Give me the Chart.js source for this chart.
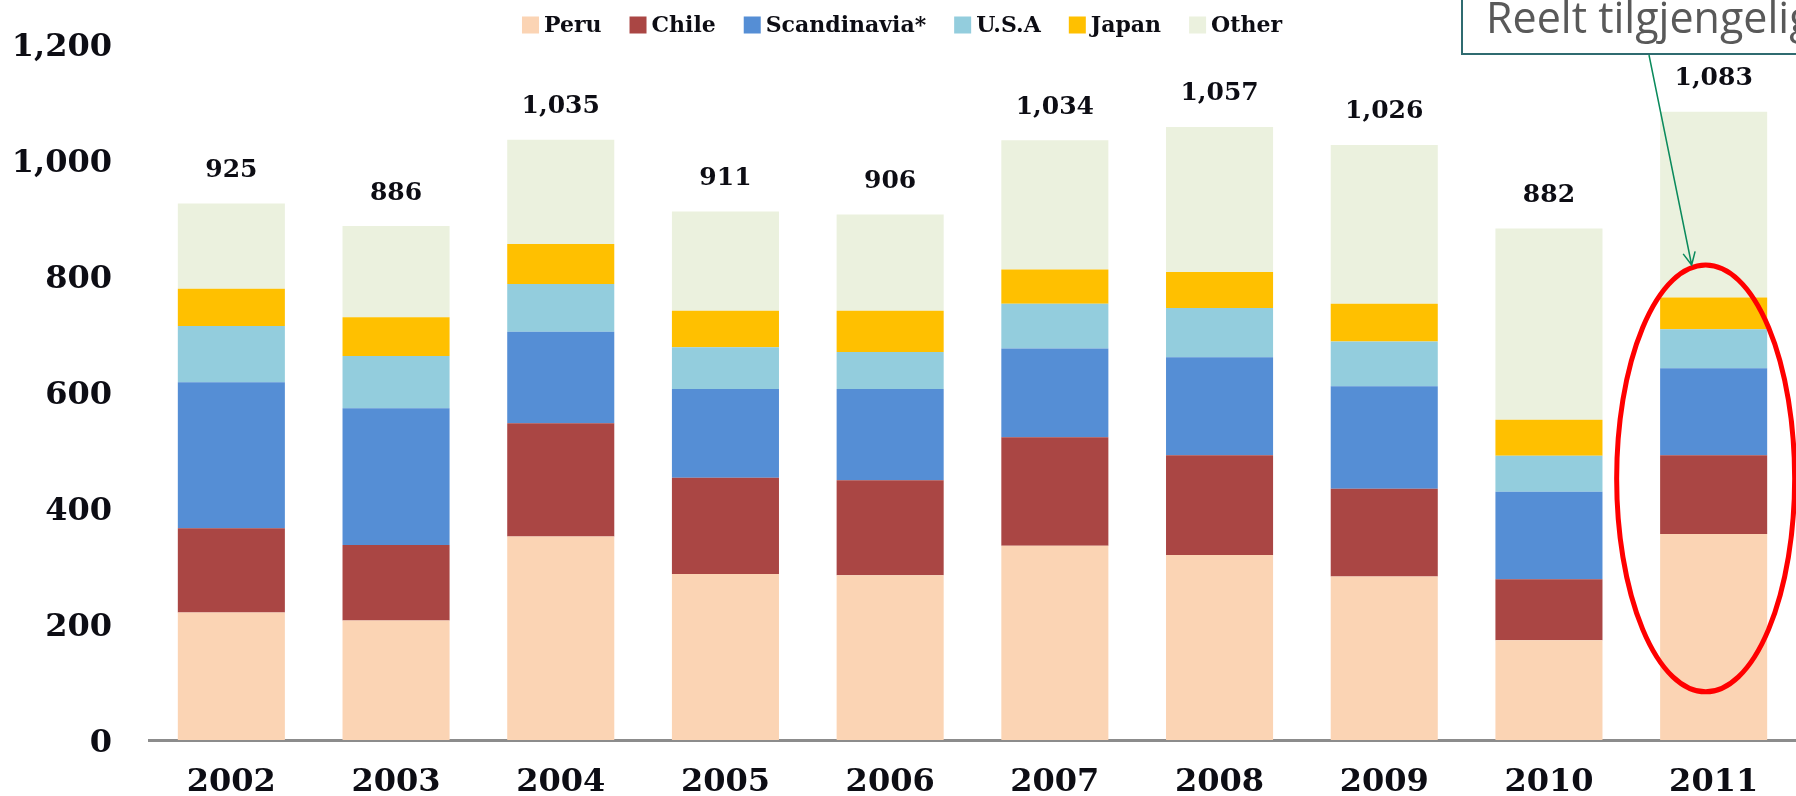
<!DOCTYPE html>
<html>
<head>
<meta charset="utf-8">
<title>Fishmeal production</title>
<script src="https://cdn.jsdelivr.net/npm/chart.js@4.4.1/dist/chart.umd.min.js"></script>
<style>
  html, body { margin: 0; padding: 0; background: #fff; }
  #wrap { width: 1796px; height: 796px; position: relative; }
</style>
</head>
<body>
<div id="wrap"><canvas id="fishChart"></canvas></div>
<script>
// Years on the x axis
const years = ['2002', '2003', '2004', '2005', '2006', '2007', '2008', '2009', '2010', '2011'];

// Stacked segments per region (thousand tonnes)
const peru        = [220, 206, 351, 286, 284, 335, 319, 282, 172, 355];
const chile       = [145, 130, 195, 166, 164, 187, 172, 151, 105, 136];
const scandinavia = [252, 236, 158, 153, 157, 153, 169, 177, 151, 150];
const usa         = [ 97,  90,  82,  72,  64,  77,  85,  77,  62,  67];
const japan       = [ 64,  67,  69,  63,  71,  59,  62,  65,  62,  55];
const other       = [147, 157, 180, 171, 166, 223, 250, 274, 330, 320];

// Y axis ticks
const yTicks = [0, 200, 400, 600, 800, 1000, 1200];

const SERIF = '"DejaVu Serif", "Liberation Serif", serif';

function fmt(n) {
    return n.toLocaleString('en-US');
}

// Legend drawn across the top, from the datasets
const topLegend = {
    id: 'topLegend',
    afterDraw(chart) {
        const ctx = chart.ctx;
        const sets = chart.data.datasets;
        const box = 17, gap = 5, spacing = 28;
        ctx.save();
        ctx.font = 'bold 22px ' + SERIF;
        let total = 0;
        const widths = sets.map(ds => ctx.measureText(ds.label).width);
        widths.forEach(w => { total += box + gap + w; });
        total += spacing * (sets.length - 1);
        let x = 902 - total / 2;
        const cy = 25;
        ctx.textBaseline = 'middle';
        ctx.textAlign = 'left';
        sets.forEach((ds, i) => {
            ctx.fillStyle = ds.backgroundColor;
            ctx.fillRect(x, cy - box / 2, box, box);
            ctx.fillStyle = '#0d0d14';
            ctx.fillText(ds.label, x + box + gap, cy + 1);
            x += box + gap + widths[i] + spacing;
        });
        ctx.restore();
    }
};

// Totals above each stack
const totalLabels = {
    id: 'totalLabels',
    afterDatasetsDraw(chart) {
        const ctx = chart.ctx;
        const xs = chart.scales.x, ys = chart.scales.y;
        ctx.save();
        ctx.font = 'bold 25px ' + SERIF;
        ctx.fillStyle = '#0d0d14';
        ctx.textAlign = 'center';
        ctx.textBaseline = 'middle';
        years.forEach((yr, i) => {
            let sum = 0;
            chart.data.datasets.forEach(ds => { sum += ds.data[i]; });
            ctx.fillText(fmt(sum), xs.getPixelForValue(i), ys.getPixelForValue(sum) - 33);
        });
        ctx.restore();
    }
};

// Callout box, arrow and red ring round the 2011 stack
const callout = {
    id: 'callout',
    afterDraw(chart) {
        const ctx = chart.ctx;
        const xs = chart.scales.x, ys = chart.scales.y;
        const cx = xs.getPixelForValue(9) - 8;
        const top = ys.getPixelForValue(819);
        const bottom = ys.getPixelForValue(83);
        ctx.save();

        // red ellipse
        ctx.strokeStyle = '#ff0000';
        ctx.lineWidth = 5;
        ctx.beginPath();
        ctx.ellipse(cx, (top + bottom) / 2, 89, (bottom - top) / 2, 0, 0, Math.PI * 2);
        ctx.stroke();

        // box with text
        ctx.fillStyle = '#ffffff';
        ctx.fillRect(1462, -10, 400, 64);
        ctx.strokeStyle = '#2f6b70';
        ctx.lineWidth = 2;
        ctx.strokeRect(1462, -10, 400, 64);
        ctx.fillStyle = '#595959';
        ctx.font = '43px "Open Sans", "Noto Sans", sans-serif';
        ctx.textAlign = 'left';
        ctx.textBaseline = 'alphabetic';
        ctx.fillText('Reelt tilgjengelig', 1486, 33);

        // green arrow
        const x0 = 1649, y0 = 55, x1 = cx - 14, y1 = top;
        ctx.strokeStyle = '#0a8a5c';
        ctx.lineWidth = 1.5;
        ctx.beginPath();
        ctx.moveTo(x0, y0);
        ctx.lineTo(x1, y1);
        const ang = Math.atan2(y1 - y0, x1 - x0);
        const len = 14;
        ctx.moveTo(x1 - len * Math.cos(ang - 0.45), y1 - len * Math.sin(ang - 0.45));
        ctx.lineTo(x1, y1);
        ctx.lineTo(x1 - len * Math.cos(ang + 0.45), y1 - len * Math.sin(ang + 0.45));
        ctx.stroke();
        ctx.restore();
    }
};

const ctx = document.getElementById('fishChart').getContext('2d');
const myChart = new Chart(ctx, {
    type: 'bar',
    data: {
        labels: years,
        datasets: [
            { label: 'Peru',         data: peru,        backgroundColor: '#fbd4b4' },
            { label: 'Chile',        data: chile,       backgroundColor: '#aa4644' },
            { label: 'Scandinavia*', data: scandinavia, backgroundColor: '#558ed5' },
            { label: 'U.S.A',        data: usa,         backgroundColor: '#93cddd' },
            { label: 'Japan',        data: japan,       backgroundColor: '#ffc000' },
            { label: 'Other',        data: other,       backgroundColor: '#ebf1de' }
        ]
    },
    options: {
        responsive: true,
        maintainAspectRatio: false,
        animation: false,
        devicePixelRatio: 1,
        layout: { padding: { top: 44, left: 0, right: 0, bottom: 0 } },
        datasets: {
            bar: { barPercentage: 0.65, categoryPercentage: 1.0, borderWidth: 0 }
        },
        plugins: {
            legend: { display: false },
            tooltip: { enabled: false }
        },
        scales: {
            x: {
                stacked: true,
                grid: { display: false, drawTicks: false },
                border: { display: true, color: '#8c8c8c', width: 3 },
                afterFit(scale) {
                    scale.height = 56;
                    scale.paddingLeft = 0;
                    scale.paddingRight = 0;
                },
                ticks: {
                    color: '#0d0d14',
                    padding: 27,
                    font: { family: SERIF, size: 32, weight: 'bold', lineHeight: 1 }
                }
            },
            y: {
                stacked: true,
                min: yTicks[0],
                max: yTicks[yTicks.length - 1],
                grid: { display: false, drawTicks: false },
                border: { display: false },
                afterFit(scale) {
                    scale.width = 149;
                    scale.paddingTop = 0;
                    scale.paddingBottom = 0;
                },
                afterBuildTicks(scale) {
                    scale.ticks = yTicks.map(v => ({ value: v }));
                },
                ticks: {
                    color: '#0d0d14',
                    padding: 37,
                    labelOffset: 4,
                    font: { family: SERIF, size: 32, weight: 'bold', lineHeight: 1 },
                    callback: v => fmt(v)
                }
            }
        }
    },
    plugins: [topLegend, totalLabels, callout]
});
</script>
</body>
</html>
